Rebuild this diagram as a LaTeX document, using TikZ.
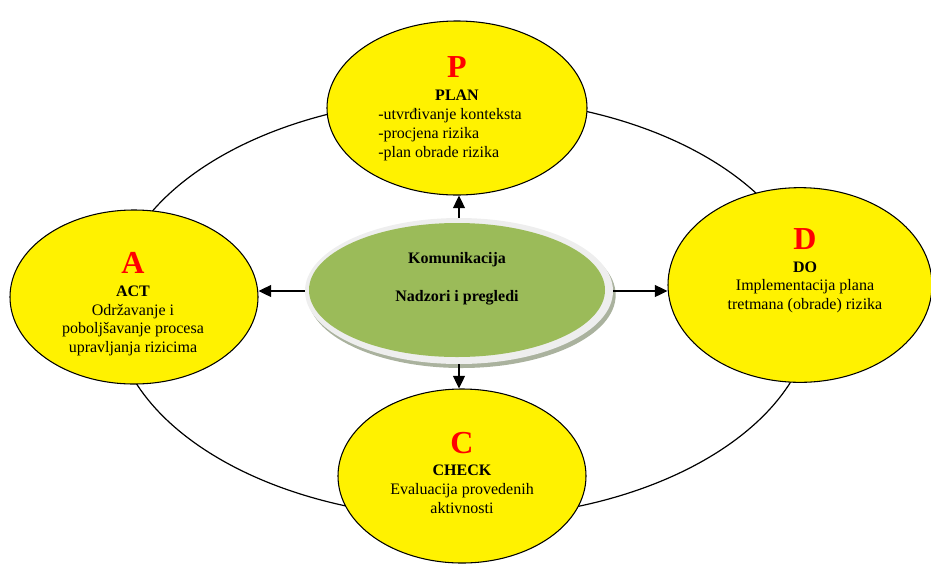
\documentclass[tikz,border=0pt]{standalone}
\usepackage{fontspec}
\setmainfont{Liberation Serif}
\usetikzlibrary{arrows.meta, shapes.geometric, shadows, positioning}
\definecolor{hubgreen}{RGB}{155,187,89}
\definecolor{hubrim}{RGB}{238,238,238}
\definecolor{hubshade}{RGB}{170,178,158}
\newcommand{\phaseletter}[1]{{\color{red}\fontsize{24}{24}\selectfont\bfseries #1}}
\tikzset{%
	phase/.style={draw, ellipse, fill=yellow, line width=0.8pt, inner sep=0mm,%
		minimum width=186pt, minimum height=130.5pt},
	hub/.style={ellipse, fill=hubrim, inner sep=0mm, minimum width=231pt, minimum height=109.5pt,%
		drop shadow={shadow xshift=2pt, shadow yshift=-3pt, fill=hubshade, opacity=1}},
	hubcore/.style={ellipse, fill=hubgreen, inner sep=0mm, minimum width=222pt, minimum height=100.5pt},
	ptext/.style={anchor=north, align=center, inner sep=0mm, font=\fontsize{12}{14}\selectfont},
	ring/.style={line width=0.9pt},
	flow/.style={-{Triangle[length=9.5pt, width=9pt]}, line width=1pt}
}

\begin{document}
\begin{tikzpicture}[x=0.75pt, y=-0.75pt]
	\useasboundingbox (0,0) rectangle (931,565);

	% cycle ring behind the four phases
	\draw[ring] (463,308) ellipse [x radius=262.5pt, y radius=157.5pt];

	\node[phase, minimum width=195pt] (P) at (457,108) {};
	\node[phase] (A) at (134,297) {};
	\node[phase, minimum width=198pt, minimum height=146pt] (D) at (800,285) {};
	\node[phase] (C) at (462,476) {};

	\node[hub] (hub) at (459,291) {};
	\node[hubcore] (core) at (457,290) {};
	\node[ptext, font=\fontsize{12}{14}\selectfont\bfseries] (hubtxt) at (457,252.5)
		{Komunikacija\\[14pt] Nadzori i pregledi};

	\node[ptext] (Phead) at (457,56.7) {\phaseletter{P}\\[3pt] \textbf{PLAN}};
	\node[ptext, anchor=north west, align=left] (Pbody) at (378,108.6)
		{-utvrđivanje konteksta\\ -procjena rizika\\ -plan obrade rizika};
	\node[ptext] (Atxt) at (133,252.3)
		{\phaseletter{A}\\[3pt] \textbf{ACT}\\ Održavanje i\\ poboljšavanje procesa\\ upravljanja rizicima};
	\node[ptext] (Dtxt) at (805,228.3)
		{\phaseletter{D}\\[3pt] \textbf{DO}\\ Implementacija plana\\ tretmana (obrade) rizika};
	\node[ptext] (Ctxt) at (462,431.7)
		{\phaseletter{C}\\[3pt] \textbf{CHECK}\\ Evaluacija provedenih\\ aktivnosti};

	\draw[flow] (hub.north) to (hub.north |- P.south);
	\draw[flow] (hub.west)  to (hub.west -| A.east);
	\draw[flow] (hub.east)  to (hub.east -| D.west);
	\draw[flow] (hub.south) to (hub.south |- C.north);

\end{tikzpicture}
\end{document}
